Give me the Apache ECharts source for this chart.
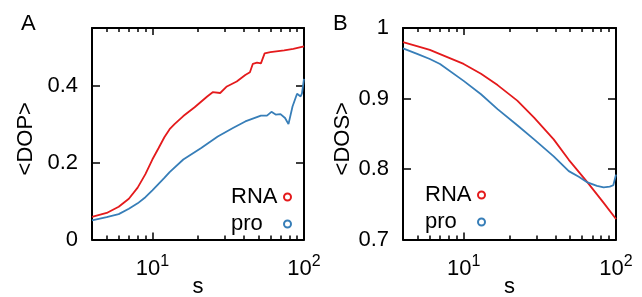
<!DOCTYPE html>
<html>
<head>
<meta charset="utf-8">
<script src="https://cdn.jsdelivr.net/npm/echarts@6/dist/echarts.min.js"></script>
<style>
  html, body { margin: 0; padding: 0; background: #fff; }
  #chart { width: 642px; height: 297px; }
</style>
</head>
<body>
<div id="chart"></div>
<script>
// panel A: <DOP> vs s
var dopRnaS = [4, 5, 6, 7, 8, 9, 10, 11, 12, 13, 14, 16, 19, 23, 25, 28, 31, 36, 41, 44, 46, 49, 52, 55, 60, 74, 85, 100];
var dopRnaV = [0.059, 0.069, 0.085, 0.106, 0.135, 0.170, 0.208, 0.238, 0.266, 0.287, 0.300, 0.321, 0.344, 0.372, 0.383, 0.381, 0.398, 0.411, 0.428, 0.435, 0.457, 0.460, 0.458, 0.484, 0.487, 0.492, 0.496, 0.502];
var dopProS = [4, 5, 6, 7, 8, 9, 10, 12, 13, 16, 21, 27, 34, 41, 52, 57, 61, 65, 70, 75, 79, 84, 90, 95, 97, 100];
var dopProV = [0.050, 0.058, 0.066, 0.080, 0.094, 0.110, 0.128, 0.160, 0.175, 0.208, 0.238, 0.268, 0.290, 0.307, 0.322, 0.322, 0.332, 0.325, 0.326, 0.316, 0.300, 0.346, 0.379, 0.372, 0.380, 0.418];

// panel B: <DOS> vs s
var dosRnaS = [4, 5, 6, 7, 10, 13, 16.7, 22.5, 29, 39, 49, 65, 83, 100];
var dosRnaV = [0.980, 0.974, 0.969, 0.963, 0.949, 0.935, 0.919, 0.897, 0.873, 0.842, 0.813, 0.781, 0.752, 0.729];
var dosProS = [4, 5, 6, 7, 10, 13, 16.7, 22.5, 29, 39, 49, 57, 65, 75, 83, 91, 96, 100];
var dosProV = [0.971, 0.963, 0.956, 0.949, 0.925, 0.906, 0.885, 0.862, 0.842, 0.818, 0.797, 0.789, 0.781, 0.776, 0.774, 0.775, 0.777, 0.792];

var majorX = [10, 100];
var minorX = [5, 6, 7, 8, 9, 20, 30, 40, 50, 60, 70, 80, 90];
var dopTicks = [0, 0.2, 0.4];
var dosTicks = [0.7, 0.8, 0.9, 1];

var RED = '#e41a1c';
var BLUE = '#377eb8';
var FONT = 'Liberation Sans, Arial, sans-serif';
var FS = 22;

function pairs(xs, ys) {
  return xs.map(function (x, i) { return [x, ys[i]]; });
}

function xAxes(grid) {
  var base = {
    type: 'log', logBase: 10, min: 4, max: 100, gridIndex: grid,
    splitLine: { show: false }, minorTick: { show: false }
  };
  var line = { show: true, lineStyle: { color: '#000', width: 2 } };
  return [
    Object.assign({}, base, {
      position: 'bottom', axisLine: line,
      axisTick: { show: true, inside: true, length: 7, customValues: majorX, lineStyle: { color: '#000', width: 1.5 } },
      axisLabel: {
        customValues: majorX, margin: 14, color: '#000', fontFamily: FONT, fontSize: FS,
        formatter: function (v) { return '10{s|' + Math.round(Math.log10(v)) + '}'; },
        rich: { s: { fontSize: 16, fontFamily: FONT, color: '#000', padding: [0, 0, 14, 0] } }
      },
      name: 's', nameLocation: 'middle', nameGap: 36, nameMoveOverlap: false,
      nameTextStyle: { color: '#000', fontFamily: FONT, fontSize: FS }
    }),
    Object.assign({}, base, {
      position: 'bottom', axisLine: { show: false },
      axisTick: { show: true, inside: true, length: 4, customValues: minorX, lineStyle: { color: '#000', width: 1.5 } },
      axisLabel: { show: false }
    }),
    Object.assign({}, base, {
      position: 'top', axisLine: line,
      axisTick: { show: true, inside: true, length: 7, customValues: majorX, lineStyle: { color: '#000', width: 1.5 } },
      axisLabel: { show: false }
    }),
    Object.assign({}, base, {
      position: 'top', axisLine: { show: false },
      axisTick: { show: true, inside: true, length: 4, customValues: minorX, lineStyle: { color: '#000', width: 1.5 } },
      axisLabel: { show: false }
    })
  ];
}

function yAxes(grid, min, max, ticks, name, gap) {
  var line = { show: true, lineStyle: { color: '#000', width: 2 } };
  var inner = ticks.slice(1);
  return [
    {
      type: 'value', gridIndex: grid, position: 'left', min: min, max: max,
      splitLine: { show: false }, axisLine: line,
      axisTick: { show: true, inside: true, length: 8, customValues: inner, lineStyle: { color: '#000', width: 1.5 } },
      axisLabel: { customValues: ticks, margin: 14, color: '#000', fontFamily: FONT, fontSize: FS },
      name: name, nameLocation: 'middle', nameRotate: 90, nameGap: gap,
      nameTextStyle: { color: '#000', fontFamily: FONT, fontSize: FS, padding: [0, 0, 0, -10] }
    },
    {
      type: 'value', gridIndex: grid, position: 'right', min: min, max: max,
      splitLine: { show: false }, axisLine: line,
      axisTick: { show: true, inside: true, length: 8, customValues: inner, lineStyle: { color: '#000', width: 1.5 } },
      axisLabel: { show: false }
    }
  ];
}

function legend(left, top) {
  return {
    left: left, top: top, orient: 'vertical', align: 'right',
    icon: 'circle', itemWidth: 7, itemHeight: 7, itemGap: 5,
    formatter: function (n) { return '{n|' + n + '}'; },
    textStyle: {
      color: '#000', fontFamily: FONT, fontSize: FS, lineHeight: 22,
      rich: { n: { width: 48, align: 'left', color: '#000', fontFamily: FONT, fontSize: FS, lineHeight: 22 } }
    },
    data: [
      { name: 'RNA', itemStyle: { color: '#fff', borderColor: RED, borderWidth: 2 } },
      { name: 'pro', itemStyle: { color: '#fff', borderColor: BLUE, borderWidth: 2 } }
    ]
  };
}

function series(name, color, xi, yi, data) {
  return {
    name: name, type: 'line', xAxisIndex: xi, yAxisIndex: yi, data: data,
    showSymbol: false, silent: true, animation: false,
    itemStyle: { color: color }, lineStyle: { color: color, width: 1.8 }
  };
}

var chart = echarts.init(document.getElementById('chart'), null, { renderer: 'canvas' });
chart.setOption({
  backgroundColor: '#fff',
  animation: false,
  title: [
    { text: 'A', left: 16, top: 8, textStyle: { color: '#000', fontFamily: FONT, fontSize: FS, fontWeight: 'normal' } },
    { text: 'B', left: 328, top: 8, textStyle: { color: '#000', fontFamily: FONT, fontSize: FS, fontWeight: 'normal' } }
  ],
  grid: [
    { left: 92, top: 28, width: 212, height: 211.5, outerBoundsMode: 'none' },
    { left: 403, top: 28, width: 213, height: 211.5, outerBoundsMode: 'none' }
  ],
  legend: [legend(226, 181), legend(420, 179)],
  xAxis: xAxes(0).concat(xAxes(1)),
  yAxis: yAxes(0, 0, 0.55, dopTicks, '<DOP>', 55).concat(yAxes(1, 0.7, 1, dosTicks, '<DOS>', 49)),
  series: [
    series('RNA', RED, 0, 0, pairs(dopRnaS, dopRnaV)),
    series('pro', BLUE, 0, 0, pairs(dopProS, dopProV)),
    series('RNA', RED, 4, 2, pairs(dosRnaS, dosRnaV)),
    series('pro', BLUE, 4, 2, pairs(dosProS, dosProV))
  ]
});
</script>
</body>
</html>
